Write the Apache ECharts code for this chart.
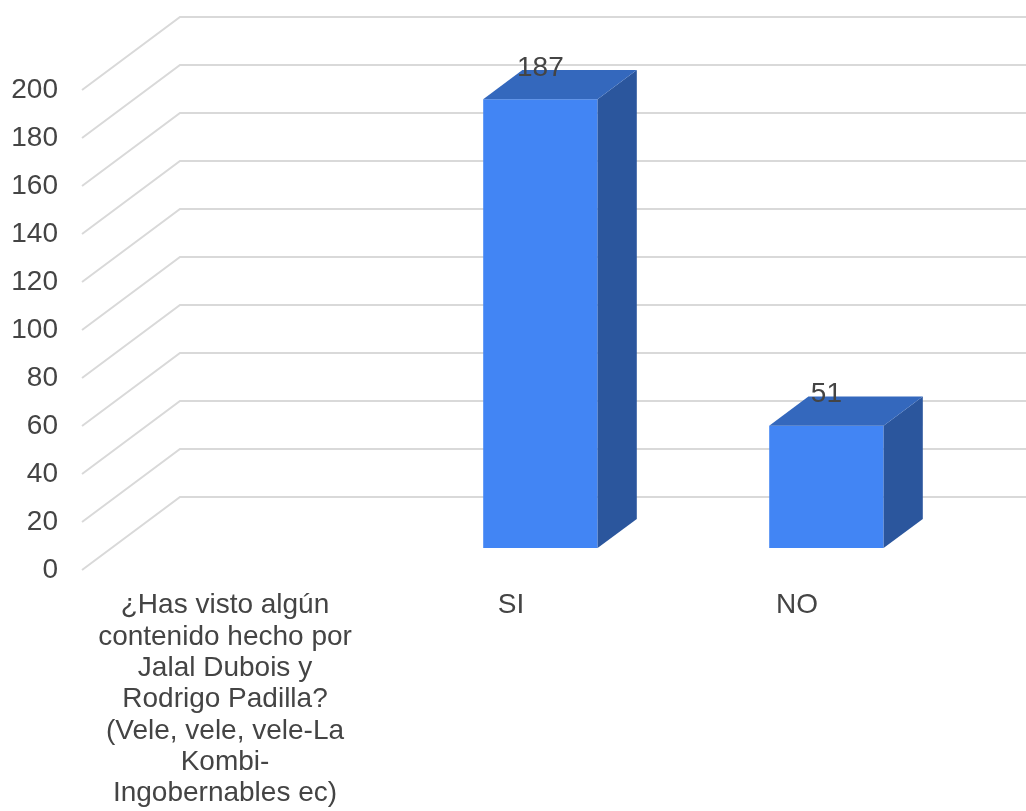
<!DOCTYPE html>
<html>
<head>
<meta charset="utf-8">
<script src="https://cdn.jsdelivr.net/npm/echarts@6/dist/echarts.min.js"></script>
<style>
  html, body { margin: 0; padding: 0; background: #fff; }
  #chart { width: 1026px; height: 811px; }
</style>
</head>
<body>
<div id="chart"></div>
<script>
// Survey answers: the first category is the question itself (no bar)
const categories = [
  '¿Has visto algún\ncontenido hecho por\nJalal Dubois y\nRodrigo Padilla?\n(Vele, vele, vele-La\nKombi-\nIngobernables ec)',
  'SI',
  'NO'
];
const answerCounts = [null, 187, 51];

// Value axis range and step
const Y_MIN = 0;
const Y_MAX = 200;
const Y_STEP = 20;

// 3D look: offset from the front plane to the back wall
const DEPTH_DX = 98;
const DEPTH_DY = -73;
const BAR_RATIO = 0.40;
const BAR_FRONT = 0.30;
const BAR_BACK = 0.70;

const FONT = '"Liberation Sans", Arial, sans-serif';
const TEXT_COLOR = '#444444';
const GRID_COLOR = '#d9d9d9';
const FRONT_COLOR = '#4285f4';
const TOP_COLOR = '#3468bd';
const SIDE_COLOR = '#2b569d';

const gridTicks = [];
for (let v = Y_MIN; v <= Y_MAX; v += Y_STEP) gridTicks.push([0, v]);

const barData = [];
answerCounts.forEach((v, i) => { if (v !== null) barData.push([i, v]); });

function renderGridLine(params, api) {
  const cs = params.coordSys;
  const y = api.coord([0, api.value(1)])[1];
  return {
    type: 'polyline',
    shape: {
      points: [
        [cs.x, y],
        [cs.x + DEPTH_DX, y + DEPTH_DY],
        [cs.x + cs.width + DEPTH_DX, y + DEPTH_DY]
      ]
    },
    style: { stroke: GRID_COLOR, lineWidth: 2, fill: null }
  };
}

function renderBar(params, api) {
  const idx = api.value(0);
  const v = api.value(1);
  const base = api.coord([idx, 0]);
  const top = api.coord([idx, v]);
  const w = api.size([1, 0])[0] * BAR_RATIO;
  const fx = DEPTH_DX * BAR_FRONT, fy = DEPTH_DY * BAR_FRONT;
  const ddx = DEPTH_DX * (BAR_BACK - BAR_FRONT);
  const ddy = DEPTH_DY * (BAR_BACK - BAR_FRONT);
  const x0 = base[0] - w / 2 + fx;
  const x1 = base[0] + w / 2 + fx;
  const yb = base[1] + fy;
  const yt = top[1] + fy;
  return {
    type: 'group',
    children: [
      {
        type: 'polygon',
        shape: { points: [[x0, yt], [x1, yt], [x1, yb], [x0, yb]] },
        style: { fill: FRONT_COLOR }
      },
      {
        type: 'polygon',
        shape: { points: [[x1, yt], [x1 + ddx, yt + ddy], [x1 + ddx, yb + ddy], [x1, yb]] },
        style: { fill: SIDE_COLOR }
      },
      {
        type: 'polygon',
        shape: { points: [[x0, yt], [x0 + ddx, yt + ddy], [x1 + ddx, yt + ddy], [x1, yt]] },
        style: { fill: TOP_COLOR }
      },
      {
        type: 'text',
        x: base[0] + fx,
        y: yt - 31,
        style: {
          text: String(v),
          fill: TEXT_COLOR,
          font: '28px ' + FONT,
          align: 'center',
          verticalAlign: 'middle'
        }
      }
    ]
  };
}

const chart = echarts.init(document.getElementById('chart'), null, { renderer: 'canvas' });
chart.setOption({
  backgroundColor: '#ffffff',
  animation: false,
  grid: { left: 82, right: 86, top: 90, bottom: 241, containLabel: false },
  xAxis: {
    type: 'category',
    data: categories,
    axisLine: { show: false },
    axisTick: { show: false },
    splitLine: { show: false },
    axisLabel: {
      interval: 0,
      margin: 20,
      color: TEXT_COLOR,
      fontFamily: FONT,
      fontSize: 28,
      lineHeight: 31.3,
      align: 'center'
    }
  },
  yAxis: {
    type: 'value',
    min: Y_MIN,
    max: Y_MAX,
    interval: Y_STEP,
    axisLine: { show: false },
    axisTick: { show: false },
    splitLine: { show: false },
    axisLabel: {
      margin: 24,
      color: TEXT_COLOR,
      fontFamily: FONT,
      fontSize: 28
    }
  },
  series: [
    {
      type: 'custom',
      z: 1,
      silent: true,
      renderItem: renderGridLine,
      data: gridTicks
    },
    {
      type: 'custom',
      z: 2,
      renderItem: renderBar,
      data: barData
    }
  ]
});
</script>
</body>
</html>
